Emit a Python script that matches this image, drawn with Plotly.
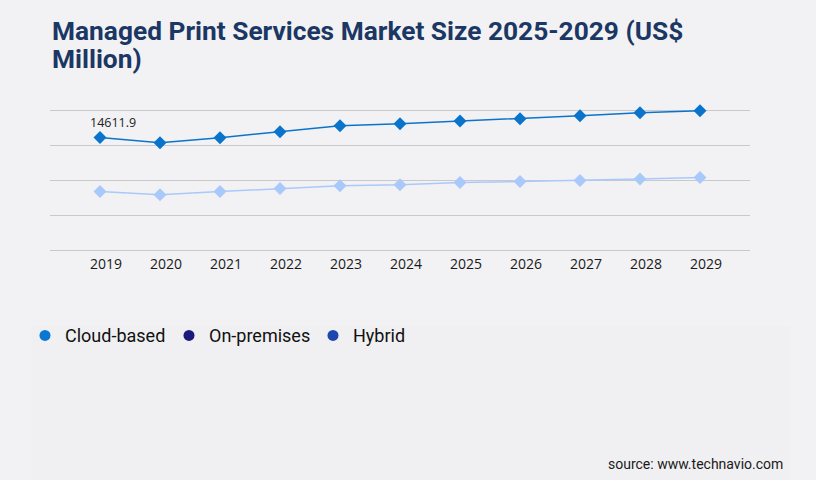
import plotly.graph_objects as go

# ---- data ----
years = [2019, 2020, 2021, 2022, 2023, 2024, 2025, 2026, 2027, 2028, 2029]
cloud_based = [14611.9, 13960, 14610, 15390, 16170, 16430, 16760, 17080, 17460, 17850, 18110]
second_series = [7610, 7170, 7610, 8000, 8340, 8470, 8780, 8910, 9040, 9240, 9430]
legend_names = ["Cloud-based", "On-premises", "Hybrid"]
legend_colors = ["#0a78d2", "#1b1b7c", "#1d47ad"]

title_line1 = "Managed Print Services Market Size 2025-2029 (US$"
title_line2 = "Million)"
source_text = "source: www.technavio.com"

# ---- layout geometry (pixels) ----
W, H = 816, 480
ML, MR, MT, MB = 50, 66, 108.6, 230
PW = W - ML - MR
PH = H - MT - MB
GRID_STEP = 4537.75
N_GRID = 4
Y_TOP = GRID_STEP * N_GRID * 1.01
BG = "#f2f2f5"


def px_x(px):
    return (px - ML) / PW


def px_y(py):
    return (H - MB - py) / PH


fig = go.Figure()

fig.add_trace(go.Scatter(
    x=years, y=second_series, mode="lines+markers", name="On-premises",
    line=dict(color="#a9c9fb", width=1.5),
    marker=dict(symbol="diamond", size=10, color="#a9c9fb"),
    showlegend=False, cliponaxis=False, hoverinfo="x+y",
))
fig.add_trace(go.Scatter(
    x=years, y=cloud_based, mode="lines+markers", name="Cloud-based",
    line=dict(color="#0a74cc", width=1.5),
    marker=dict(symbol="diamond", size=10, color="#0a74cc"),
    showlegend=False, cliponaxis=False, hoverinfo="x+y",
))

for name, color in zip(legend_names, legend_colors):
    fig.add_trace(go.Scatter(
        x=[None], y=[None], mode="markers", name=name,
        marker=dict(symbol="circle", size=11, color=color),
        showlegend=True,
    ))

annotations = [
    dict(text=title_line1, xref="paper", yref="paper", x=0, y=px_y(30.5),
         xanchor="left", yanchor="middle", showarrow=False,
         font=dict(family="Roboto", size=26.3, color="#1b3763", weight="bold")),
    dict(text=title_line2, xref="paper", yref="paper", x=0, y=px_y(58.8),
         xanchor="left", yanchor="middle", showarrow=False,
         font=dict(family="Roboto", size=26.3, color="#1b3763", weight="bold")),
    dict(text=source_text, xref="paper", yref="paper", x=px_x(784.5), y=px_y(465),
         xanchor="right", yanchor="middle", showarrow=False,
         font=dict(family="Roboto", size=14, color="#1a1a1a")),
    dict(text=f"{cloud_based[0]}", xref="x", yref="y", x=years[0], y=cloud_based[0],
         xshift=13, yshift=15, showarrow=False, xanchor="center", yanchor="middle",
         font=dict(family="Open Sans", size=12.5, color="#222222")),
]

shapes = [
    dict(type="rect", xref="paper", yref="paper", layer="below",
         x0=px_x(30), x1=px_x(791), y0=px_y(480), y1=px_y(326),
         fillcolor="#f0f0f2", line=dict(width=0)),
]

fig.update_layout(
    width=W, height=H,
    margin=dict(l=ML, r=MR, t=MT, b=MB, pad=0),
    paper_bgcolor=BG, plot_bgcolor="rgba(0,0,0,0)",
    showlegend=True,
    legend=dict(orientation="h", x=px_x(25), y=px_y(336), xanchor="left", yanchor="middle",
                font=dict(family="Roboto", size=18, color="#111111"),
                entrywidth=99, bgcolor="rgba(0,0,0,0)", itemclick=False),
    annotations=annotations,
    shapes=shapes,
    xaxis=dict(range=[years[0] - 50 / 60, years[-1] + 50 / 60], tickvals=years,
               ticktext=[str(y) for y in years], showgrid=False, zeroline=False,
               showline=False, ticks="", ticklabelshift=6, ticklabelstandoff=4,
               tickfont=dict(family="Open Sans", size=14, color="#1a1a1a"),
               fixedrange=True),
    yaxis=dict(range=[0, Y_TOP], dtick=GRID_STEP, tick0=0, showgrid=True,
               gridcolor="#c9c9cc", gridwidth=1, zeroline=True, zerolinecolor="#c9c9cc",
               zerolinewidth=1, showline=False,
               showticklabels=False, ticks="", fixedrange=True),
)

fig.write_html(
    "out.html",
    config={"displayModeBar": False},
    post_script=f"document.body.style.margin='0';document.body.style.background='{BG}';",
)
